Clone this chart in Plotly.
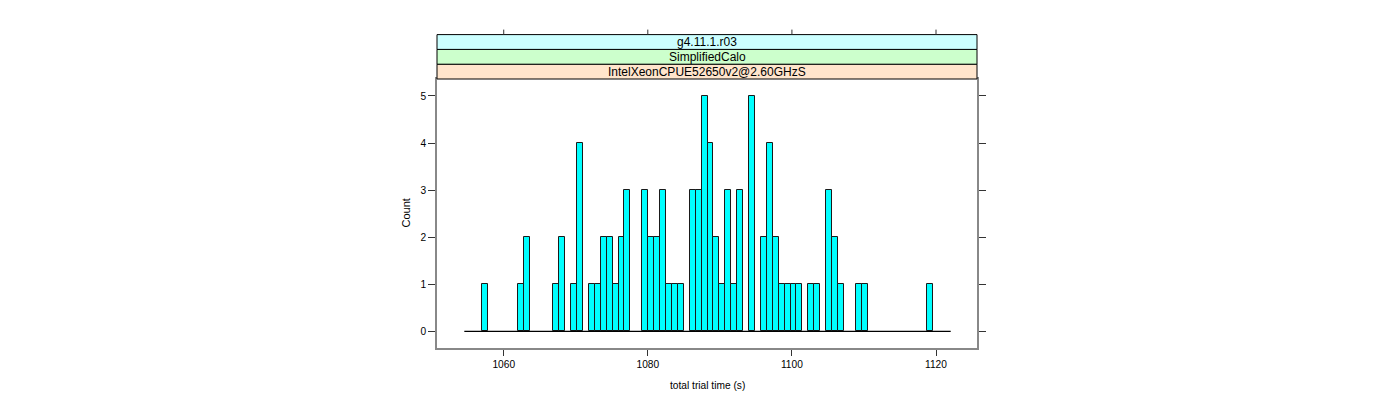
import numpy as np
import plotly.graph_objects as go

# ---- data ----
bin_start = 1054.53
bin_width = 0.8233
counts = [0, 0, 0, 1, 0, 0, 0, 0, 0, 1,
          2, 0, 0, 0, 0, 1, 2, 0, 1, 4,
          0, 1, 1, 2, 2, 1, 2, 3, 0, 0,
          3, 2, 2, 3, 1, 1, 1, 0, 3, 3,
          5, 4, 2, 1, 3, 1, 3, 0, 5, 0,
          2, 4, 2, 1, 1, 1, 1, 0, 1, 1,
          0, 3, 2, 1, 0, 0, 1, 1, 0, 0,
          0, 0, 0, 0, 0, 0, 0, 0, 1, 0,
          0, 0]
x_ticks = [1060, 1080, 1100, 1120]
y_ticks = [0, 1, 2, 3, 4, 5]
strip_labels = ["IntelXeonCPUE52650v2@2.60GHzS", "SimplifiedCalo", "g4.11.1.r03"]
strip_colors = ["#FFE5CC", "#CCFFCC", "#CCFFFF"]
x_title = "total trial time (s)"
y_title = "Count"

# ---- derived ----
counts = np.array(counts)
edges = bin_start + bin_width * np.arange(len(counts) + 1)
centers = (edges[:-1] + edges[1:]) / 2
nz = counts > 0

FONT = "Liberation Sans, Arial, Helvetica, sans-serif"
FS_TICK = 10.2
FS_STRIP = 12
FS_XLAB = 10.2
FS_YLAB = 11
AX = "#888888"

fig = go.Figure()
fig.add_trace(go.Scatter(x=[edges[0], edges[-1]], y=[0, 0], mode="lines",
                         line=dict(color="black", width=1.2), hoverinfo="skip",
                         showlegend=False))
fig.add_trace(go.Bar(x=centers[nz], y=counts[nz], width=bin_width,
                     marker=dict(color="#00FFFF", line=dict(color="#1a1a1a", width=1)),
                     showlegend=False))

W, H = 1400, 400
pw, ph = 540, 269
ml, mt = 429, 71
mr = W - ml - pw
mb = H - mt - ph
h = 14.8 / ph

shapes = []
annotations = []
for i, (lab, col) in enumerate(zip(strip_labels, strip_colors)):
    shapes.append(dict(type="rect", xref="paper", yref="paper", x0=0, x1=1,
                       y0=1 + i * h, y1=1 + (i + 1) * h, fillcolor=col,
                       line=dict(color="black", width=1), layer="above"))
    annotations.append(dict(text=lab, xref="paper", yref="paper", x=0.5,
                            y=1 + (i + 0.5) * h, showarrow=False,
                            font=dict(family=FONT, size=FS_STRIP, color="black"),
                            xanchor="center", yanchor="middle"))
for t in x_ticks:
    shapes.append(dict(type="line", xref="x", yref="paper", x0=t, x1=t,
                       y0=1 + 3 * h, y1=1 + 3 * h + 5 / ph,
                       line=dict(color="#333333", width=1)))

annotations.append(dict(text=y_title, xref="paper", yref="paper",
                        x=-(437 - 405) / pw, y=0.5, textangle=-90, showarrow=False,
                        font=dict(family=FONT, size=FS_YLAB, color="black"),
                        xanchor="center", yanchor="middle"))
annotations.append(dict(text=x_title, xref="paper", yref="paper",
                        x=0.5, y=-(385 - 347.5) / ph, showarrow=False,
                        font=dict(family=FONT, size=FS_XLAB, color="black"),
                        xanchor="center", yanchor="middle"))

fig.update_layout(
    width=W, height=H,
    margin=dict(l=ml, r=mr, t=mt, b=mb, pad=0),
    plot_bgcolor="white", paper_bgcolor="white",
    bargap=0,
    shapes=shapes, annotations=annotations,
    xaxis=dict(range=[1050.74, 1125.69], tickvals=x_ticks,
               ticktext=[str(t) for t in x_ticks],
               ticks="outside", ticklen=6, tickcolor="#333333", tickwidth=1,
               showline=True, linecolor=AX, linewidth=1.5, mirror=True,
               showgrid=False, zeroline=False,
               tickfont=dict(family=FONT, size=FS_TICK, color="black")),
    yaxis=dict(range=[-0.355, 5.36], tickvals=y_ticks,
               ticks="outside", ticklen=7, tickcolor="#333333", tickwidth=1,
               showline=True, linecolor=AX, linewidth=1.5, mirror="ticks",
               showgrid=False, zeroline=False,
               tickfont=dict(family=FONT, size=FS_TICK, color="black")),
)

fig.write_html("out.html")
